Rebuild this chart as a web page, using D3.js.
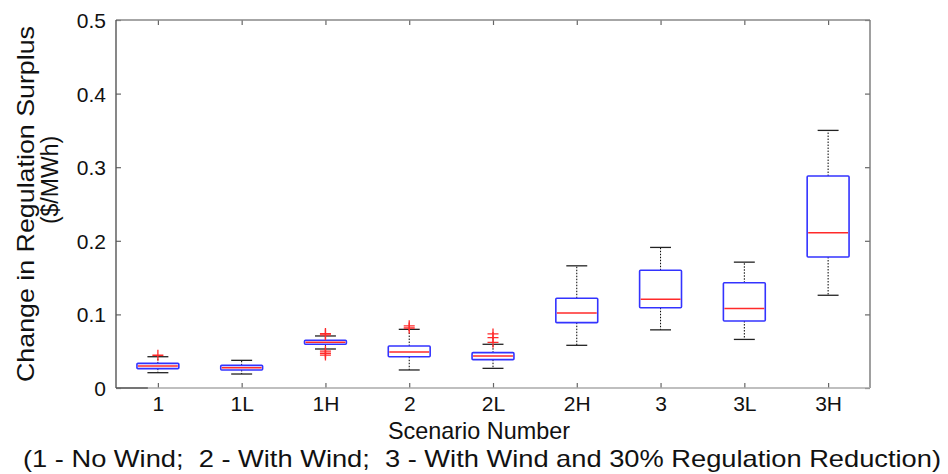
<!DOCTYPE html>
<html>
<head>
<meta charset="utf-8">
<script src="https://cdn.jsdelivr.net/npm/d3@7/dist/d3.min.js"></script>
<style>
  html, body { margin: 0; padding: 0; background: #fff; }
  svg { display: block; font-family: "Liberation Sans", Arial, sans-serif; }
  .note { white-space: pre; }
</style>
</head>
<body>
<svg id="chart" width="948" height="474"></svg>
<script>
// Scenario box-plot statistics: change in regulation surplus ($/MWh)
const categories   = ["1", "1L", "1H", "2", "2L", "2H", "3", "3L", "3H"];
const whiskerLow   = [0.0208, 0.0190, 0.0530, 0.0245, 0.0267, 0.0580, 0.0790, 0.0660, 0.1260];
const quartile1    = [0.0263, 0.0245, 0.0594, 0.0425, 0.0385, 0.0888, 0.1090, 0.0910, 0.1780];
const medians      = [0.0299, 0.0276, 0.0622, 0.0490, 0.0435, 0.1020, 0.1205, 0.1080, 0.2110];
const quartile3    = [0.0335, 0.0308, 0.0648, 0.0570, 0.0480, 0.1220, 0.1600, 0.1430, 0.2880];
const whiskerHigh  = [0.0425, 0.0376, 0.0707, 0.0797, 0.0594, 0.1660, 0.1910, 0.1710, 0.3500];
const outliers     = [
  [0.0445],
  [],
  [0.0740, 0.0722, 0.0500, 0.0472, 0.0448],
  [0.0845, 0.0815],
  [0.0735, 0.0685, 0.0620],
  [], [], [], []
];
const yTicks = [0, 0.1, 0.2, 0.3, 0.4, 0.5];

const svg = d3.select("#chart");
const plotL = 116, plotR = 870, plotT = 20, plotB = 388;

const x = d3.scalePoint().domain(categories).range([plotL, plotR]).padding(0.5);
const y = d3.scaleLinear().domain([0, 0.5]).range([plotB, plotT]);
const step = x.step();
const boxW = step * 0.5, capW = step * 0.25;

const yFmt = d => d === 0 ? "0" : d3.format(".1f")(d);

// Axes: ticks point inward on all four sides
const gLeft = svg.append("g").attr("transform", `translate(${plotL},0)`)
  .call(d3.axisLeft(y).tickValues(yTicks).tickFormat(yFmt).tickSize(-5).tickPadding(10));
const gRight = svg.append("g").attr("transform", `translate(${plotR},0)`)
  .call(d3.axisRight(y).tickValues(yTicks).tickFormat("").tickSize(-5));
const gBottom = svg.append("g").attr("transform", `translate(0,${plotB})`)
  .call(d3.axisBottom(x).tickSize(-5).tickPadding(8.5));
const gTop = svg.append("g").attr("transform", `translate(0,${plotT})`)
  .call(d3.axisTop(x).tickFormat("").tickSize(-5));

[gLeft, gRight, gBottom, gTop].forEach(g => {
  g.select(".domain").remove();
  g.selectAll(".tick line").attr("stroke", "#666").attr("stroke-width", 1.2);
  g.selectAll(".tick text").attr("fill", "#111").attr("font-size", 21)
    .attr("font-family", "'Liberation Sans', Arial, sans-serif");
});
gBottom.selectAll(".tick text").attr("dy", "0.71em");
gLeft.selectAll(".tick text").attr("dy", "0.36em");

// Frame
const frame = svg.append("g").attr("fill", "none").attr("stroke-width", 1.4);
frame.append("line").attr("x1", plotL).attr("x2", plotR).attr("y1", plotT).attr("y2", plotT).attr("stroke", "#888");
frame.append("line").attr("x1", plotR).attr("x2", plotR).attr("y1", plotT).attr("y2", plotB).attr("stroke", "#777");
frame.append("line").attr("x1", plotL).attr("x2", plotR).attr("y1", plotB).attr("y2", plotB).attr("stroke", "#aaa");
frame.append("line").attr("x1", plotL).attr("x2", plotL).attr("y1", plotT).attr("y2", plotB).attr("stroke", "#555");
frame.append("line").attr("x1", plotL).attr("x2", plotL + step * 0.38).attr("y1", plotB).attr("y2", plotB).attr("stroke", "#555");

// Boxes
const rows = categories.map((c, i) => ({
  c, lo: whiskerLow[i], q1: quartile1[i], med: medians[i], q3: quartile3[i], hi: whiskerHigh[i], out: outliers[i]
}));

const box = svg.append("g").selectAll("g").data(rows).join("g")
  .attr("transform", d => `translate(${x(d.c)},0)`);

// dashed whiskers
box.append("line").attr("x1", 0).attr("x2", 0)
  .attr("y1", d => y(d.q3)).attr("y2", d => y(d.hi))
  .attr("stroke", "#000").attr("stroke-width", 1).attr("stroke-dasharray", "1.5,1.5");
box.append("line").attr("x1", 0).attr("x2", 0)
  .attr("y1", d => y(d.q1)).attr("y2", d => y(d.lo))
  .attr("stroke", "#000").attr("stroke-width", 1).attr("stroke-dasharray", "1.5,1.5");
// whisker caps
box.append("line").attr("x1", -capW / 2).attr("x2", capW / 2)
  .attr("y1", d => y(d.hi)).attr("y2", d => y(d.hi))
  .attr("stroke", "#222").attr("stroke-width", 1.3);
box.append("line").attr("x1", -capW / 2).attr("x2", capW / 2)
  .attr("y1", d => y(d.lo)).attr("y2", d => y(d.lo))
  .attr("stroke", "#222").attr("stroke-width", 1.3);
// box
box.append("rect").attr("x", -boxW / 2).attr("width", boxW)
  .attr("y", d => y(d.q3)).attr("height", d => y(d.q1) - y(d.q3))
  .attr("fill", "none").attr("stroke", "#3333ff").attr("stroke-width", 1.6).attr("rx", 1);
// median
box.append("line").attr("x1", -boxW / 2 + 1).attr("x2", boxW / 2 - 1)
  .attr("y1", d => y(d.med)).attr("y2", d => y(d.med))
  .attr("stroke", "#ff2a2a").attr("stroke-width", 1.5);
// outliers
box.each(function (d) {
  const g = d3.select(this);
  d.out.forEach(v => {
    g.append("path")
      .attr("d", `M-5.5,${y(v)}H5.5M0,${y(v) - 5.5}V${y(v) + 5.5}`)
      .attr("stroke", "#ff2a2a").attr("stroke-width", 1.3).attr("fill", "none");
  });
});

// Axis titles
svg.append("text").attr("x", 479).attr("y", 439)
  .attr("text-anchor", "middle").attr("font-size", 24).attr("fill", "#111")
  .attr("textLength", 182).attr("lengthAdjust", "spacingAndGlyphs")
  .text("Scenario Number");
svg.append("text").attr("class", "note").attr("x", 482).attr("y", 467)
  .attr("text-anchor", "middle").attr("font-size", 24).attr("fill", "#111")
  .attr("textLength", 918).attr("lengthAdjust", "spacingAndGlyphs")
  .text("(1 - No Wind;  2 - With Wind;  3 - With Wind and 30% Regulation Reduction)");

svg.append("text").attr("transform", "translate(34,204) rotate(-90)")
  .attr("text-anchor", "middle").attr("font-size", 24).attr("fill", "#111")
  .attr("textLength", 356).attr("lengthAdjust", "spacingAndGlyphs")
  .text("Change in Regulation Surplus");
svg.append("text").attr("transform", "translate(58,180) rotate(-90)")
  .attr("text-anchor", "middle").attr("font-size", 23).attr("fill", "#111")
  .text("($/MWh)");
</script>
</body>
</html>
